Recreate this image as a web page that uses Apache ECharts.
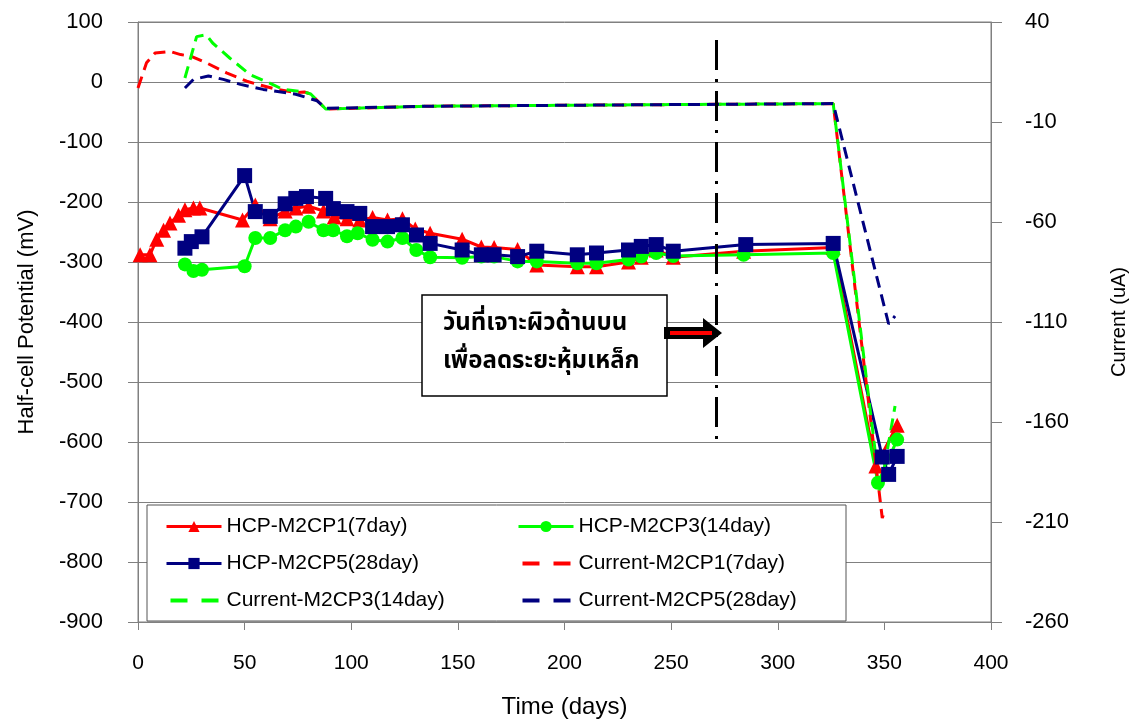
<!DOCTYPE html>
<html lang="en">
<head>
<meta charset="UTF-8">
<title>Half-cell potential and current vs time</title>
<script src="https://cdn.jsdelivr.net/npm/echarts@6/dist/echarts.min.js"></script>
</head>
<body style="margin:0">
<div id="main" style="width:1139px;height:724px;"></div>
<script>
// half-cell potential (mV) as [day, mV]
var hcp1 = [[1,-288],[5.6,-288],[8.8,-262],[12,-247],[15,-235],[19,-222],[22,-213],[26,-210],[29,-210],
  [49,-230],[55,-205],[62,-228],[69,-215],[74,-210],[80,-207],[87,-215],[92,-225],[98,-228],[104,-230],
  [110,-226],[117,-230],[124,-228],[130,-245],[137,-252],[152,-262],[161,-275],[167,-276],[178,-279],
  [187,-305],[206,-308],[215,-308],[230,-300],[236,-292],[243,-280],[251,-292],[284,-282],[326,-276],
  [346,-640],[356,-572]];
var hcp3 = [[22,-304],[26,-315],[30,-313],[50,-307],[55,-260],[62,-260],[69,-247],[74,-241],[80,-233],
  [87,-247],[91.5,-247],[98,-257],[103,-252],[110,-263],[117,-266],[124,-260],[130.5,-280],[137,-292],
  [152,-293],[161,-291],[167,-291],[178,-299],[187,-299],[206,-302],[215,-302],[230,-296],[236,-291],
  [243,-285],[251,-290],[284,-288],[326,-285],[347,-668],[356,-596]];
var hcp5 = [[22,-277],[25,-266],[30,-258],[50,-156],[55,-216],[62,-224],[69,-203],[74,-194],[79,-191],
  [88,-194],[91.6,-211],[98,-216],[104,-219],[110,-241],[117,-241],[124,-238],[130.6,-255],[137,-269],
  [152,-280],[161,-288],[167,-288],[178,-291],[187,-282],[206,-288],[215,-285],[230,-280],[236,-274],
  [243,-271],[251,-282],[285,-271],[326,-269],[349,-625],[352,-654],[356,-624]];

// current (uA) as [day, uA]
var cur1 = [[0,7],[4,19.6],[8,24.5],[15,25.3],[20,23.7],[25,22.8],[32,19.6],[41.5,14.6],[51,10.4],
  [56,8.8],[65,6.3],[74,4.7],[78,5],[81,4],[88,-3.5],[137,-2.1],[250,-1.3],[326,-0.8],[349,-208],[350,-205]];
var cur3 = [[22,12],[27.5,32.7],[32,33.6],[35,29.5],[43,22],[52.5,13.7],[63,8.8],[68,6.3],[78,5],[81,4],
  [88,-3.5],[137,-2.1],[250,-1.3],[326,-0.8],[348,-195],[355,-152]];
var cur5 = [[22,7],[26,11.3],[33,13],[40,11.3],[48,8.8],[58.7,6.3],[74,3.9],[84,0.6],[88,-3.2],
  [137,-2.1],[250,-1.3],[326,-0.8],[352,-111],[355,-107]];

var currentTicks = [-260, -210, -160, -110, -60, -10, 40];
var drillDay = 271;

var font = 'Liberation Sans, Arial, sans-serif';
// two short dashes for the current series legend icon (tiny corner dots keep the 55x14 box)
var dashIcon = 'path://M0,0h0.1v0.1h-0.1Z M54.9,13.9h0.1v0.1h-0.1Z M4,5h17v4h-17Z M35,5h17v4h-17Z';
var chart = echarts.init(document.getElementById('main'));

function hcpSeries(name, data, color, symbol, size) {
  return {
    name: name, type: 'line', yAxisIndex: 0, data: data,
    symbol: symbol, symbolSize: size,
    itemStyle: { color: color },
    lineStyle: { color: color, width: 3 }
  };
}
function currentSeries(name, data, color) {
  return {
    name: name, type: 'line', yAxisIndex: 1, data: data,
    symbol: 'none',
    itemStyle: { color: color },
    lineStyle: { color: color, width: 3, type: [12, 7] }
  };
}

var series = [
  hcpSeries('HCP-M2CP1(7day)', hcp1, '#ff0000', 'triangle', 15),
  hcpSeries('HCP-M2CP3(14day)', hcp3, '#00ff00', 'circle', 14),
  hcpSeries('HCP-M2CP5(28day)', hcp5, '#000080', 'rect', 15),
  currentSeries('Current-M2CP1(7day)', cur1, '#ff0000'),
  currentSeries('Current-M2CP3(14day)', cur3, '#00ff00'),
  currentSeries('Current-M2CP5(28day)', cur5, '#000080')
];
// vertical dash-dot line at drilling day
series[0].markLine = {
  symbol: 'none', silent: true, label: { show: false },
  lineStyle: { color: '#000', width: 3, type: [30, 9, 3, 9] },
  data: [[{ coord: [drillDay, 70] }, { coord: [drillDay, -602] }]]
};

var legendText = { fontFamily: font, fontSize: 21, color: '#000' };
var legendCommon = {
  orient: 'vertical', top: 511, itemWidth: 55, itemHeight: 14, itemGap: 16,
  lineStyle: { width: 3 }, textStyle: legendText
};

var option = {
  animation: false,
  backgroundColor: '#fff',
  grid: { left: 138, right: 148, top: 22, bottom: 96, show: true, borderColor: '#808080', borderWidth: 1 },
  xAxis: {
    type: 'value', min: 0, max: 400, interval: 50,
    name: 'Time (days)', nameLocation: 'middle', nameGap: 73,
    nameTextStyle: { fontFamily: font, fontSize: 24, color: '#000' },
    axisLine: { onZero: false, lineStyle: { color: '#808080' } },
    axisTick: { length: 8, lineStyle: { color: '#808080' } },
    axisLabel: { margin: 31, fontFamily: font, fontSize: 21, color: '#000' },
    splitLine: { show: false }
  },
  yAxis: [{
    type: 'value', min: -900, max: 100, interval: 100,
    name: 'Half-cell Potential (mV)', nameLocation: 'middle', nameGap: 100,
    nameTextStyle: { fontFamily: font, fontSize: 22, color: '#000' },
    axisLine: { show: true, lineStyle: { color: '#808080' } },
    axisTick: { show: true, length: 10, lineStyle: { color: '#808080' } },
    axisLabel: { margin: 35, fontFamily: font, fontSize: 22, color: '#000' },
    splitLine: { lineStyle: { color: '#808080', width: 1 } }
  }, {
    type: 'value', min: -260, max: 40, position: 'right',
    name: 'Current (uA)', nameLocation: 'middle', nameGap: 118,
    nameTextStyle: { fontFamily: font, fontSize: 20, color: '#000' },
    axisLine: { show: true, lineStyle: { color: '#808080' } },
    axisTick: { show: true, length: 11, customValues: currentTicks, lineStyle: { color: '#808080' } },
    axisLabel: { margin: 34, fontFamily: font, fontSize: 22, color: '#000', customValues: currentTicks },
    splitLine: { show: false }
  }],
  legend: [
    Object.assign({ left: 160, data: [
      'HCP-M2CP1(7day)', 'HCP-M2CP5(28day)', { name: 'Current-M2CP3(14day)', icon: dashIcon }
    ] }, legendCommon),
    Object.assign({ left: 512, data: [
      'HCP-M2CP3(14day)', { name: 'Current-M2CP1(7day)', icon: dashIcon }, { name: 'Current-M2CP5(28day)', icon: dashIcon }
    ] }, legendCommon)
  ],
  graphic: [
    { type: 'rect', z: 3, shape: { x: 147, y: 505, width: 699, height: 116 },
      style: { fill: '#fff', stroke: '#555', lineWidth: 1 } },
    { type: 'rect', z: 3, shape: { x: 422, y: 295, width: 245, height: 101 },
      style: { fill: '#fff', stroke: '#000', lineWidth: 1.5 } },
    { type: 'text', z: 4, left: 443, top: 313,
      style: { text: 'วันที่เจาะผิวด้านบน', font: 'bold 24px "Noto Sans Thai", "Noto Sans", sans-serif', fill: '#000' } },
    { type: 'text', z: 4, left: 443, top: 351,
      style: { text: 'เพื่อลดระยะหุ้มเหล็ก', font: 'bold 24px "Noto Sans Thai", "Noto Sans", sans-serif', fill: '#000' } },
    { type: 'polygon', z: 4,
      shape: { points: [[664, 327], [703, 327], [703, 318], [722, 333], [703, 348], [703, 339], [664, 339]] },
      style: { fill: '#000' } },
    { type: 'line', z: 5, shape: { x1: 670, y1: 333, x2: 712, y2: 333 },
      style: { stroke: '#ff0000', lineWidth: 4 } }
  ],
  series: series
};

chart.setOption(option);
</script>
</body>
</html>
